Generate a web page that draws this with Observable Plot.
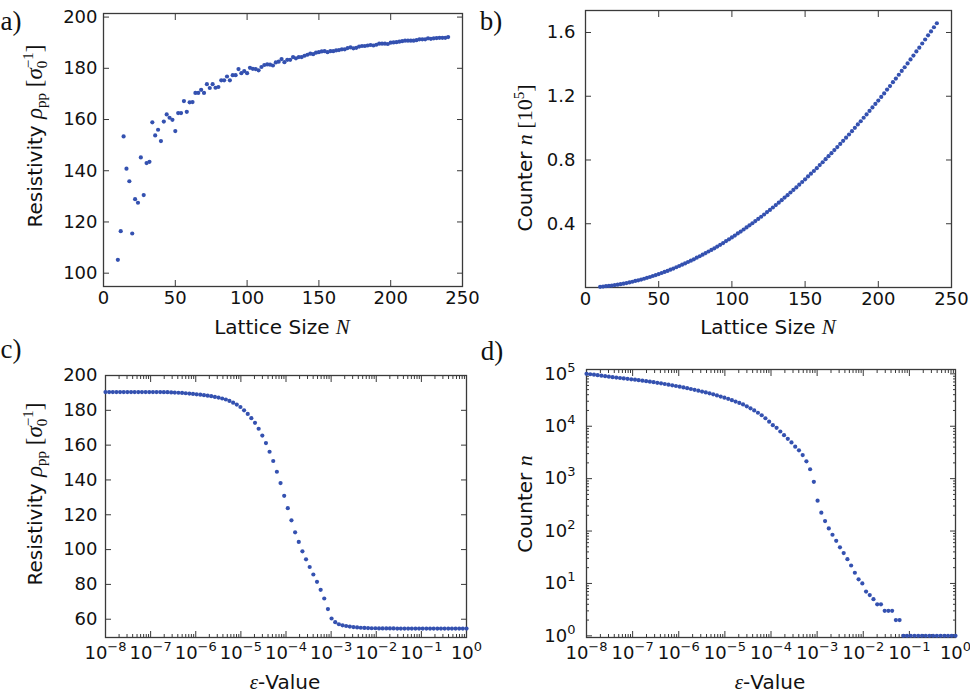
<!DOCTYPE html>
<html><head><meta charset="utf-8">
<script src="https://cdn.jsdelivr.net/npm/d3@7"></script>
<script src="https://cdn.jsdelivr.net/npm/@observablehq/plot@0.6"></script>
<style>
body{margin:0;background:#fff;}
#wrap{position:relative;width:970px;height:693px;background:#fff;overflow:hidden;}
#wrap svg{position:absolute;}
</style></head><body><div id="wrap"></div>
<script>
// ---------- data ----------
const latticeN = [10,12,14,16,18,20,22,24,26,28,30,32,34,36,38,40,42,44,46,48,50,52,54,56,58,60,62,64,66,68,70,72,74,76,78,80,82,84,86,88,90,92,94,96,98,100,102,104,106,108,110,112,114,116,118,120,122,124,126,128,130,132,134,136,138,140,142,144,146,148,150,152,154,156,158,160,162,164,166,168,170,172,174,176,178,180,182,184,186,188,190,192,194,196,198,200,202,204,206,208,210,212,214,216,218,220,222,224,226,228,230,232,234,236,238,240];
const resistivityA = [105.2,116.4,153.4,140.8,135.9,115.5,128.9,127.5,145.2,130.5,143.0,143.5,158.9,153.8,156.0,151.6,159.2,162.0,160.7,159.9,155.5,162.5,162.5,167.2,163.0,166.7,166.8,170.4,170.4,171.6,170.4,173.8,172.3,173.8,172.4,172.7,175.3,175.3,176.8,175.3,177.3,177.3,179.7,178.1,178.9,178.1,180.2,179.8,179.7,179.2,180.5,181.3,181.5,181.4,181.1,182.3,182.6,183.6,182.4,183.3,183.3,184.4,183.9,184.4,184.4,184.9,185.3,185.7,185.5,186.1,186.3,186.6,186.7,186.3,186.7,186.7,187.0,187.1,187.4,187.4,187.9,188.2,187.8,188.0,188.5,188.7,188.7,188.9,189.1,188.9,189.2,189.6,189.6,189.6,189.5,190.0,190.1,190.2,190.4,190.6,190.8,190.8,190.8,190.8,191.0,191.3,191.3,191.3,191.7,191.5,191.7,191.8,191.9,191.9,191.9,192.2];
// counter in units of 10^5
const counterB = [0.004,0.006,0.008,0.010,0.012,0.015,0.018,0.021,0.024,0.028,0.032,0.036,0.041,0.045,0.050,0.055,0.061,0.066,0.072,0.078,0.084,0.091,0.098,0.104,0.112,0.119,0.127,0.135,0.143,0.151,0.160,0.168,0.177,0.187,0.196,0.206,0.216,0.226,0.236,0.246,0.257,0.268,0.279,0.291,0.302,0.314,0.326,0.339,0.351,0.364,0.377,0.390,0.403,0.417,0.430,0.444,0.458,0.473,0.487,0.502,0.517,0.532,0.548,0.564,0.579,0.596,0.612,0.628,0.645,0.662,0.679,0.697,0.714,0.731,0.749,0.768,0.786,0.805,0.824,0.843,0.862,0.881,0.901,0.920,0.940,0.960,0.981,1.002,1.023,1.043,1.065,1.086,1.108,1.130,1.152,1.173,1.196,1.218,1.242,1.264,1.288,1.311,1.335,1.359,1.382,1.406,1.431,1.455,1.481,1.505,1.531,1.556,1.582,1.607,1.633,1.658];
// epsilon = 10^exponent
const epsExponent = [-8.000,-7.919,-7.838,-7.758,-7.677,-7.596,-7.515,-7.434,-7.354,-7.273,-7.192,-7.111,-7.030,-6.949,-6.869,-6.788,-6.707,-6.626,-6.545,-6.465,-6.384,-6.303,-6.222,-6.141,-6.061,-5.980,-5.899,-5.818,-5.737,-5.657,-5.576,-5.495,-5.414,-5.333,-5.253,-5.172,-5.091,-5.010,-4.929,-4.848,-4.768,-4.687,-4.606,-4.525,-4.444,-4.364,-4.283,-4.202,-4.121,-4.040,-3.960,-3.879,-3.798,-3.717,-3.636,-3.556,-3.475,-3.394,-3.313,-3.232,-3.152,-3.071,-2.990,-2.909,-2.828,-2.747,-2.667,-2.586,-2.505,-2.424,-2.343,-2.263,-2.182,-2.101,-2.020,-1.939,-1.859,-1.778,-1.697,-1.616,-1.535,-1.455,-1.374,-1.293,-1.212,-1.131,-1.051,-0.970,-0.889,-0.808,-0.727,-0.646,-0.566,-0.485,-0.404,-0.323,-0.242,-0.162,-0.081,0.000];
const resistivityC = [190.5,190.5,190.5,190.5,190.5,190.5,190.5,190.5,190.5,190.5,190.5,190.5,190.5,190.5,190.5,190.5,190.4,190.4,190.3,190.2,190.1,190.0,189.8,189.6,189.4,189.2,189.0,188.7,188.4,188.1,187.7,187.3,186.8,186.2,185.4,184.4,183.3,181.9,180.0,177.9,175.5,172.8,169.4,165.5,161.2,156.2,150.9,144.7,138.2,130.9,123.8,116.8,109.9,104.4,99.0,94.4,90.0,85.7,81.5,76.9,71.9,65.8,60.4,58.3,57.1,56.5,56.1,55.8,55.5,55.3,55.1,55.0,54.9,54.8,54.8,54.7,54.7,54.7,54.7,54.7,54.6,54.6,54.6,54.6,54.6,54.6,54.6,54.6,54.6,54.6,54.6,54.6,54.6,54.6,54.6,54.6,54.6,54.6,54.6,54.6];
const counterD = [100000,98200,96200,94200,92300,90200,88300,86300,84700,83200,81700,80200,78700,77300,75700,74100,72400,70800,69200,67500,65800,64000,62200,60400,58600,56900,55100,53200,51400,49500,47800,45900,44200,42400,40600,38700,36900,35100,33300,31500,29600,27900,26100,24000,22000,20000,18100,16200,14200,12200,10500,9330,7940,6760,5750,4900,4070,3470,2820,2140,1510,870,380,224,155,112,85,65,49,38,29,22,16,12,10,7,6,5,4,4,3,3,3,2,2,1,1,1,1,1,1,1,1,1,1,1,1,1,1,1];

// ---------- ticks ----------
const ticksN = [0,50,100,150,200,250];
const ticksRhoA = [100,120,140,160,180,200];
const ticksCountB = [0.4,0.8,1.2,1.6];
const ticksRhoC = [60,80,100,120,140,160,180,200];
const decadesEps = [-8,-7,-6,-5,-4,-3,-2,-1,0];
const decadesCount = [0,1,2,3,4,5];
const panelLetters = ["a)","b)","c)","d)"];

// ---------- style ----------
const DOT = "#3451b0";
const AXIS = "#3a3a3a";
const SANS = "DejaVu Sans";
const SERIF = "Liberation Serif";

const ticksEps = decadesEps.map(e => Math.pow(10, e));
const minorEps = decadesEps.slice(0, -1).flatMap(e => [2,3,4,5,6,7,8,9].map(k => k * Math.pow(10, e)));
const ticksCountD = decadesCount.map(e => Math.pow(10, e));
const minorCountD = decadesCount.slice(0, -1).flatMap(e => [2,3,4,5,6,7,8,9].map(k => k * Math.pow(10, e)));
const powFmt = d => "10^" + Math.round(Math.log10(d));

function boxAxes({xt, yt, xm = [], ym = [], xfmt, yfmt, xpad, ypad}) {
  const st = {stroke: AXIS, strokeWidth: 1, fill: "none", label: null};
  const m = [
    Plot.axisX({...st, ticks: xt, anchor: "bottom", tickSize: -6}),
    Plot.axisX({...st, ticks: xt, anchor: "top", tickSize: -6}),
    Plot.axisY({...st, ticks: yt, anchor: "left", tickSize: -6}),
    Plot.axisY({...st, ticks: yt, anchor: "right", tickSize: -6})
  ];
  if (xm.length) m.push(
    Plot.axisX({...st, ticks: xm, anchor: "bottom", tickSize: -3}),
    Plot.axisX({...st, ticks: xm, anchor: "top", tickSize: -3}));
  if (ym.length) m.push(
    Plot.axisY({...st, ticks: ym, anchor: "left", tickSize: -3}),
    Plot.axisY({...st, ticks: ym, anchor: "right", tickSize: -3}));
  m.push(
    Plot.axisX({ticks: xt, anchor: "bottom", tickSize: 0, tickPadding: xpad, tickFormat: xfmt, label: null, fill: "#111"}),
    Plot.axisY({ticks: yt, anchor: "left", tickSize: 0, tickPadding: ypad, tickFormat: yfmt, label: null, fill: "#111"}),
    Plot.frame({stroke: AXIS, strokeWidth: 1.3})
  );
  return m;
}

function place(svg, left, top) {
  svg.style.left = left + "px";
  svg.style.top = top + "px";
  // superscripts in tick labels
  d3.select(svg).selectAll("text").each(function() {
    const t = this.textContent;
    if (t.includes("^")) {
      const [b, e] = t.split("^");
      const s = d3.select(this);
      s.text(b);
      s.append("tspan").attr("dy", -8).attr("font-size", 13).text(e.replace("-", "\u2212"));
    }
  });
  document.getElementById("wrap").appendChild(svg);
  return svg;
}

function label(svg, x, y, rotate, parts, size = 20) {
  const t = d3.select(svg).append("text")
    .attr("transform", `translate(${x},${y})` + (rotate ? ` rotate(${rotate})` : ""))
    .attr("text-anchor", "middle")
    .attr("font-family", SANS).attr("font-size", size).attr("fill", "#111");
  let shift = 0;
  for (const p of parts) {
    const s = t.append("tspan").text(p.t);
    if (p.serif) s.attr("font-family", SERIF);
    if (p.it) s.attr("font-style", "italic");
    if (p.size) s.attr("font-size", p.size);
    const target = p.shift || 0;
    if (target !== shift) s.attr("dy", target - shift);
    shift = target;
    if (p.dx) s.attr("dx", p.dx);
  }
}
function letter(svg, x, y, txt) {
  d3.select(svg).append("text").attr("x", x).attr("y", y)
    .attr("font-family", SERIF).attr("font-size", 27).attr("fill", "#111").text(txt);
}

const rhoParts = [
  {t: "Resistivity "},
  {t: "\u03c1", serif: true, it: true, size: 23},
  {t: "pp", serif: true, size: 15, shift: 4},
  {t: " [", serif: true, size: 23, shift: 0},
  {t: "\u03c3", serif: true, it: true, size: 23},
  {t: "0", serif: true, size: 15, shift: 5},
  {t: "\u22121", serif: true, size: 15, shift: -9, dx: -7.5},
  {t: "]", serif: true, size: 23, shift: 0}
];
const latticeParts = [{t: "Lattice Size "}, {t: "N", serif: true, it: true, size: 21}];
const epsParts = [{t: "\u03b5", serif: true, it: true, size: 21}, {t: "-Value"}];

const baseStyle = {fontFamily: SANS, fontSize: "18px", color: "#111", background: "transparent", overflow: "visible"};

const dataA = latticeN.map((n, i) => ({n, v: resistivityA[i]}));
const dataB = latticeN.map((n, i) => ({n, v: counterB[i]}));
const dataC = epsExponent.map((e, i) => ({eps: Math.pow(10, e), v: resistivityC[i]}));
const dataD = epsExponent.map((e, i) => ({eps: Math.pow(10, e), v: counterD[i]}));

// ---------- panel a ----------
const pa = Plot.plot({
  width: 485, height: 346, marginLeft: 103, marginRight: 23, marginTop: 13, marginBottom: 60,
  style: baseStyle,
  x: {domain: [0, 250]}, y: {domain: [94.8, 201.4]},
  marks: [
    ...boxAxes({xt: ticksN, yt: ticksRhoA, xfmt: d => String(d), yfmt: d => String(d), xpad: 5, ypad: 6}),
    Plot.dot(dataA, {x: "n", y: "v", r: 2.1, fill: DOT})
  ]
});
place(pa, 0, 0);
label(pa, 42, 136, -90, rhoParts);
label(pa, 282, 334, 0, latticeParts);
letter(pa, 11, 30, panelLetters[0]);

// ---------- panel b ----------
const pb = Plot.plot({
  width: 485, height: 346, marginLeft: 100, marginRight: 19, marginTop: 10, marginBottom: 59,
  style: baseStyle,
  x: {domain: [0, 250]}, y: {domain: [0, 1.738]},
  marks: [
    ...boxAxes({xt: ticksN, yt: ticksCountB, xfmt: d => String(d), yfmt: d3.format(".1f"), xpad: 5, ypad: 10}),
    Plot.dot(dataB, {x: "n", y: "v", r: 2.1, fill: DOT})
  ]
});
place(pb, 485, 0);
label(pb, 47, 158, -90, [
  {t: "Counter "}, {t: "n", serif: true, it: true, size: 22},
  {t: " [10", serif: true, size: 22}, {t: "5", serif: true, size: 15, shift: -8}, {t: "]", serif: true, size: 22, shift: 0}
]);
label(pb, 283, 334, 0, latticeParts);
letter(pb, 6, 30, panelLetters[1]);

// ---------- panel c ----------
const pc = Plot.plot({
  width: 485, height: 347, marginLeft: 105, marginRight: 19, marginTop: 29, marginBottom: 56,
  style: baseStyle,
  x: {type: "log", domain: [1e-8, 1]}, y: {domain: [49.5, 200]},
  marks: [
    ...boxAxes({xt: ticksEps, yt: ticksRhoC, xm: minorEps, xfmt: powFmt, yfmt: d => String(d), xpad: 9, ypad: 8}),
    Plot.dot(dataC, {x: "eps", y: "v", r: 2.1, fill: DOT})
  ]
});
place(pc, 0, 346);
label(pc, 42, 148, -90, rhoParts);
label(pc, 285, 343, 0, epsParts);
letter(pc, 11, 12, panelLetters[2]);

// ---------- panel d ----------
const pd = Plot.plot({
  width: 485, height: 347, marginLeft: 101, marginRight: 15, marginTop: 23, marginBottom: 56,
  style: baseStyle,
  x: {type: "log", domain: [1e-8, 1]}, y: {type: "log", domain: [0.93, 1.21e5]},
  marks: [
    ...boxAxes({xt: ticksEps, yt: ticksCountD, xm: minorEps, ym: minorCountD, xfmt: powFmt, yfmt: powFmt, xpad: 9, ypad: 11}),
    Plot.dot(dataD, {x: "eps", y: "v", r: 2.1, fill: DOT})
  ]
});
place(pd, 485, 346);
label(pd, 47, 158, -90, [{t: "Counter "}, {t: "n", serif: true, it: true, size: 22}]);
label(pd, 285, 343, 0, epsParts);
letter(pd, 7, 14, panelLetters[3]);
</script></body></html>
